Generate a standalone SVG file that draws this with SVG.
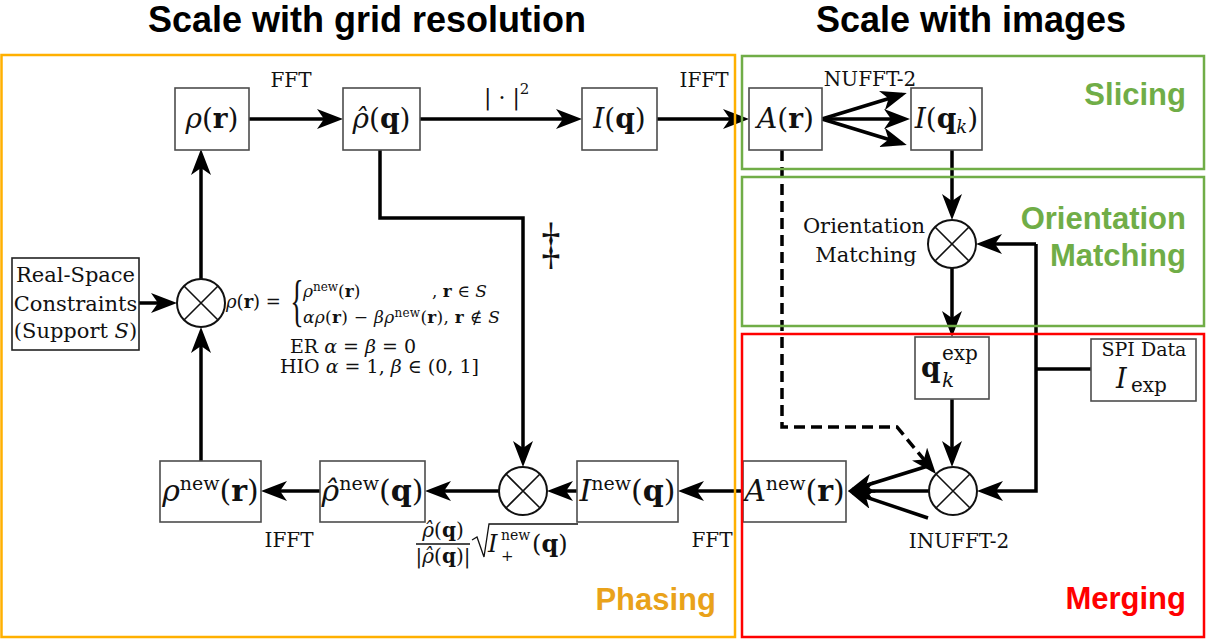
<svg xmlns="http://www.w3.org/2000/svg" width="1206" height="639" viewBox="0 0 1206 639">
<style>
.node rect{fill:#fff;stroke:#4d4d4d;stroke-width:1.6}
.sum circle{fill:#fff;stroke:#111;stroke-width:2}
.sum path{stroke:#111;stroke-width:1.6;fill:none}
.conn path{fill:none;stroke:#000;stroke-width:3.5}
.dash{stroke-dasharray:11 6}
.m{font-family:"DejaVu Serif","Liberation Serif",serif;fill:#111}
.i{font-style:italic}
.b{font-weight:bold}
.mid{text-anchor:middle}
.title{font-family:"Liberation Sans",Arial,sans-serif;font-weight:bold;font-size:36px;fill:#000;text-anchor:middle}
.region{font-family:"Liberation Sans",Arial,sans-serif;font-weight:bold;font-size:31px;text-anchor:end}
.frame{fill:none;stroke-width:2.5}
</style>
<defs>
<marker id="ah" viewBox="0 0 26 20" markerWidth="26" markerHeight="20" refX="21" refY="10" orient="auto" markerUnits="userSpaceOnUse">
<path d="M0,0 L26,10 L0,20 L7,10 z" fill="#000"/>
</marker>
</defs>
<rect width="1206" height="639" fill="#fff"/>

<text class="title" x="367" y="32">Scale with grid resolution</text>
<text class="title" x="971" y="32">Scale with images</text>

<g id="connectors" class="conn">
<path d="M249,119 H338" marker-end="url(#ah)"/>
<path d="M420,119 H577" marker-end="url(#ah)"/>
<path d="M657,119 H744" marker-end="url(#ah)"/>
<path d="M822,119 L902,94.5" marker-end="url(#ah)"/>
<path d="M822,119 H905" marker-end="url(#ah)"/>
<path d="M822,119 L902,143.5" marker-end="url(#ah)"/>
<path d="M952,150 V215" marker-end="url(#ah)"/>
<path d="M952,268 V332" marker-end="url(#ah)"/>
<path d="M952,399 V462" marker-end="url(#ah)"/>
<path d="M1036,244 H981" marker-end="url(#ah)"/>
<path d="M1036,244 V491 H982" marker-end="url(#ah)"/>
<path d="M1091,369 H1036"/>
<path class="dash" d="M782,150 V427 H897 L932.8,470.2" marker-end="url(#ah)"/>
<path d="M928,466 L852.8,489.5" marker-end="url(#ah)"/>
<path d="M929,491 H853" marker-end="url(#ah)"/>
<path d="M928,518 L852.7,492.6" marker-end="url(#ah)"/>
<path d="M743,491 H683" marker-end="url(#ah)"/>
<path d="M577,491 H552" marker-end="url(#ah)"/>
<path d="M499,491 H430" marker-end="url(#ah)"/>
<path d="M320,491 H266" marker-end="url(#ah)"/>
<path d="M201,461 V332" marker-end="url(#ah)"/>
<path d="M201,279 V154" marker-end="url(#ah)"/>
<path d="M139,303 H172" marker-end="url(#ah)"/>
<path d="M380,150 V218 H523 V462" marker-end="url(#ah)"/>
</g>

<g id="rho_r" class="node"><rect x="175" y="88" width="74" height="62"/>
<text class="m mid" x="212" y="128" font-size="28"><tspan class="i">ρ</tspan>(<tspan class="b">r</tspan>)</text></g>
<g id="rhohat_q" class="node"><rect x="343" y="88" width="77" height="62"/>
<text class="m mid" x="381.5" y="128" font-size="28"><tspan class="i">ρ̂</tspan>(<tspan class="b">q</tspan>)</text></g>
<g id="I_q" class="node"><rect x="582" y="88" width="75" height="62"/>
<text class="m mid" x="619.5" y="128" font-size="28"><tspan class="i">I</tspan>(<tspan class="b">q</tspan>)</text></g>
<g id="A_r" class="node"><rect x="749" y="88" width="73" height="62"/>
<text class="m mid" x="785.5" y="128" font-size="28"><tspan class="i">A</tspan>(<tspan class="b">r</tspan>)</text></g>
<g id="I_qk" class="node"><rect x="911" y="88" width="71" height="62"/>
<text class="m mid" x="946.5" y="128" font-size="28"><tspan class="i">I</tspan>(<tspan class="b">q</tspan><tspan class="i" font-size="18" dy="5">k</tspan><tspan dy="-5">)</tspan></text></g>

<g id="realspace" class="node"><rect x="12" y="258" width="127" height="92" style="stroke:#222"/>
<text class="m mid" x="75.5" y="282" font-size="21">Real-Space</text>
<text class="m mid" x="75.5" y="311" font-size="21">Constraints</text>
<text class="m mid" x="75.5" y="338" font-size="21">(Support <tspan class="i">S</tspan>)</text></g>

<g id="sum_left" class="sum"><circle cx="201" cy="303" r="24"/><path d="M184,286 L218,320 M218,286 L184,320"/></g>
<g id="sum_bottom_left" class="sum"><circle cx="523" cy="491" r="24"/><path d="M506,474 L540,508 M540,474 L506,508"/></g>
<g id="sum_orient" class="sum"><circle cx="952" cy="244" r="24"/><path d="M935,227 L969,261 M969,227 L935,261"/></g>
<g id="sum_merge" class="sum"><circle cx="953" cy="491" r="24"/><path d="M936,474 L970,508 M970,474 L936,508"/></g>

<g id="qk_exp" class="node"><rect x="915" y="337" width="74" height="62"/>
<text class="m b" x="921" y="377" font-size="28">q</text>
<text class="m" x="942" y="360" font-size="20">exp</text>
<text class="m i" x="942" y="387" font-size="20">k</text></g>
<g id="spi" class="node"><rect x="1091" y="339" width="105" height="62"/>
<text class="m mid" x="1144" y="356" font-size="19">SPI Data</text>
<text class="m i" x="1116" y="388" font-size="27">I</text>
<text class="m" x="1131" y="392" font-size="20">exp</text></g>

<g id="A_new" class="node"><rect x="743" y="461" width="103" height="61"/>
<text class="m mid" x="794.5" y="501" font-size="30"><tspan class="i">A</tspan><tspan font-size="19" dy="-11">new</tspan><tspan dy="11">(</tspan><tspan class="b">r</tspan>)</text></g>
<g id="I_new" class="node"><rect x="577" y="461" width="101" height="61"/>
<text class="m mid" x="627.5" y="501" font-size="30"><tspan class="i">I</tspan><tspan font-size="19" dy="-11">new</tspan><tspan dy="11">(</tspan><tspan class="b">q</tspan>)</text></g>
<g id="rhohat_new" class="node"><rect x="320" y="461" width="105" height="61"/>
<text class="m mid" x="372.5" y="501" font-size="30"><tspan class="i">ρ̂</tspan><tspan font-size="19" dy="-11">new</tspan><tspan dy="11">(</tspan><tspan class="b">q</tspan>)</text></g>
<g id="rho_new" class="node"><rect x="160" y="461" width="101" height="61"/>
<text class="m mid" x="210.5" y="501" font-size="30"><tspan class="i">ρ</tspan><tspan font-size="19" dy="-11">new</tspan><tspan dy="11">(</tspan><tspan class="b">r</tspan>)</text></g>

<g id="labels">
<text class="m mid" x="291" y="87" font-size="20">FFT</text>
<text class="m" x="484" y="105" font-size="22">| · |<tspan font-size="15" dy="-11">2</tspan></text>
<text class="m mid" x="704" y="87" font-size="20">IFFT</text>
<text class="m mid" x="870" y="86" font-size="20">NUFFT-2</text>
<text class="m mid" x="864" y="233" font-size="21">Orientation</text>
<text class="m mid" x="866" y="262" font-size="21">Matching</text>
<text class="m mid" x="959" y="548" font-size="20">INUFFT-2</text>
<text class="m mid" x="289" y="547" font-size="20">IFFT</text>
<text class="m mid" x="712" y="547" font-size="20">FFT</text>
<text transform="translate(551,262) scale(0.65,1)" text-anchor="middle" font-size="58" style="font-family:'Liberation Serif',serif;fill:#111">‡</text>

<text class="m" x="226" y="308" font-size="18"><tspan class="i">ρ</tspan>(<tspan class="b">r</tspan>) =</text>
<text class="m" transform="translate(297,320) scale(0.5,1)" font-size="56" text-anchor="middle" style="font-family:'Liberation Serif',serif">{</text>
<text class="m" x="303" y="297" font-size="17"><tspan class="i">ρ</tspan><tspan font-size="12" dy="-6">new</tspan><tspan dy="6">(</tspan><tspan class="b">r</tspan>)</text>
<text class="m" x="432" y="297" font-size="17">, <tspan class="b">r</tspan> ∈ <tspan class="i">S</tspan></text>
<text class="m" x="303" y="323" font-size="17" textLength="197"><tspan class="i">αρ</tspan>(<tspan class="b">r</tspan>) − <tspan class="i">βρ</tspan><tspan font-size="12" dy="-6">new</tspan><tspan dy="6">(</tspan><tspan class="b">r</tspan>), <tspan class="b">r</tspan> ∉ <tspan class="i">S</tspan></text>
<text class="m" x="290" y="353" font-size="19">ER <tspan class="i">α</tspan> = <tspan class="i">β</tspan> = 0</text>
<text class="m" x="280" y="373" font-size="19">HIO <tspan class="i">α</tspan> = 1, <tspan class="i">β</tspan> ∈ (0, 1]</text>

<text class="m mid" x="443" y="537" font-size="20"><tspan class="i">ρ̂</tspan>(<tspan class="b">q</tspan>)</text>
<path d="M416,544 H470" stroke="#111" stroke-width="1.3"/>
<text class="m mid" x="443" y="563" font-size="20">|<tspan class="i">ρ̂</tspan>(<tspan class="b">q</tspan>)|</text>
<path d="M472,540 L477,537 L484,557 L489,524 H578" fill="none" stroke="#111" stroke-width="1.3"/>
<text class="m i" x="488" y="552" font-size="24">I</text>
<text class="m" x="501" y="540" font-size="14">new</text>
<text class="m" x="501" y="561" font-size="15">+</text>
<text class="m" x="532" y="552" font-size="24">(<tspan class="b">q</tspan>)</text>
</g>

<g id="frames">
<rect class="frame" x="1.5" y="55" width="733.5" height="582" stroke="#FFB000"/>
<rect class="frame" x="742" y="56" width="462" height="113" stroke="#70AD47"/>
<rect class="frame" x="742" y="177" width="462" height="149" stroke="#70AD47"/>
<rect class="frame" x="742" y="334" width="462" height="303" stroke="#FF0000"/>
</g>
<g id="region-labels">
<text class="region" x="1186" y="105" fill="#70AD47">Slicing</text>
<text class="region" x="1186" y="229" fill="#70AD47">Orientation</text>
<text class="region" x="1186" y="266" fill="#70AD47">Matching</text>
<text class="region" x="1186" y="609" fill="#FF0000">Merging</text>
<text class="region" x="716" y="610" fill="#E9A21A">Phasing</text>
</g>
</svg>
